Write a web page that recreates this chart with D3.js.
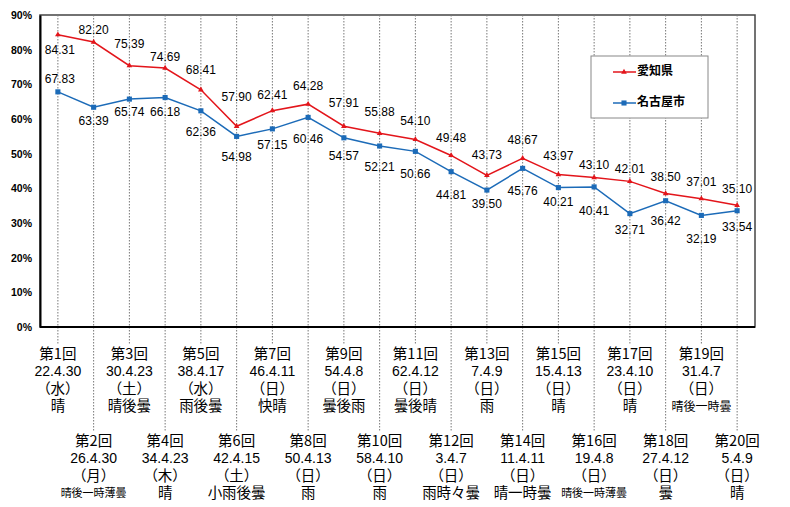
<!DOCTYPE html>
<html lang="ja">
<head>
<meta charset="UTF-8">
<script src="https://d3js.org/d3.v7.min.js"></script>
<style>
  body { margin: 0; background: #fff; }
  text { font-family: "Liberation Sans", Arial, sans-serif; fill: #000; }
  .grid { stroke: #777; stroke-width: 1; stroke-dasharray: 1.5 1.5; }
</style>
</head>
<body>
<svg id="chart" width="790" height="507"></svg>
<script>
const rounds = ["第1回","第2回","第3回","第4回","第5回","第6回","第7回","第8回","第9回","第10回",
  "第11回","第12回","第13回","第14回","第15回","第16回","第17回","第18回","第19回","第20回"];
const dates = ["22.4.30","26.4.30","30.4.23","34.4.23","38.4.17","42.4.15","46.4.11","50.4.13","54.4.8","58.4.10",
  "62.4.12","3.4.7","7.4.9","11.4.11","15.4.13","19.4.8","23.4.10","27.4.12","31.4.7","5.4.9"];
const days = ["（水）","（月）","（土）","（木）","（水）","（土）","（日）","（日）","（日）","（日）",
  "（日）","（日）","（日）","（日）","（日）","（日）","（日）","（日）","（日）","（日）"];
const weather = ["晴","晴後一時薄曇","晴後曇","晴","雨後曇","小雨後曇","快晴","雨","曇後雨","雨",
  "曇後晴","雨時々曇","雨","晴一時曇","晴","晴後一時薄曇","晴","曇","晴後一時曇","晴"];
const aichi = [84.31,82.20,75.39,74.69,68.41,57.90,62.41,64.28,57.91,55.88,
  54.10,49.48,43.73,48.67,43.97,43.10,42.01,38.50,37.01,35.10];
const nagoya = [67.83,63.39,65.74,66.18,62.36,54.98,57.15,60.46,54.57,52.21,
  50.66,44.81,39.50,45.76,40.21,40.41,32.71,36.42,32.19,33.54];
const yTicks = [0,10,20,30,40,50,60,70,80,90];

// how far each value label sits from its point (px), as placed in the original
const aichiDy = [16,-11,-21,-10,-19,-28,-15,-17,-22,-20,-18,-17,-20,-17,-18,-12,-12,-16,-16,-15];
const nagoyaDy = [-12,15,14,15,22,21,17,22,19,22,23,24,15,23,15,25,17,21,24,17];

const mLeft = 40, mRight = 755, mTop = 15, mBottom = 327;
const svg = d3.select("#chart");

const x = d3.scaleBand().domain(d3.range(rounds.length)).range([mLeft, mRight]);
const cx = i => x(i) + x.bandwidth() / 2;
const y = d3.scaleLinear().domain([0, 90]).range([mBottom, mTop]);

// frame
svg.append("rect")
  .attr("x", mLeft).attr("y", mTop)
  .attr("width", mRight - mLeft).attr("height", mBottom - mTop)
  .attr("fill", "none").attr("stroke", "#444").attr("stroke-width", 1.5);

// dashed guides, running down to the category labels
svg.selectAll(".grid").data(d3.range(rounds.length)).join("line")
  .attr("class", "grid")
  .attr("x1", cx).attr("x2", cx)
  .attr("y1", mTop).attr("y2", i => i % 2 === 0 ? 345 : 432);

// y axis
const yAxis = svg.append("g")
  .attr("transform", `translate(${mLeft},0)`)
  .call(d3.axisLeft(y).tickValues(yTicks).tickSize(0).tickPadding(8).tickFormat(d => d + "%"));
yAxis.select(".domain").attr("stroke", "#000").attr("stroke-width", 2);
yAxis.selectAll("text").style("font-size", "10.5px").style("font-weight", "bold").attr("fill", "#222");

// x baseline
svg.append("line").attr("x1", mLeft).attr("x2", mRight).attr("y1", mBottom).attr("y2", mBottom)
  .attr("stroke", "#000").attr("stroke-width", 2);

// category labels, alternating two rows
const cat = svg.append("g");
rounds.forEach((r, i) => {
  const y0 = i % 2 === 0 ? 355 : 442;
  const g = cat.append("g").attr("transform", `translate(${cx(i)},${y0})`);
  const lines = [r, dates[i], days[i], weather[i]];
  lines.forEach((t, k) => {
    const small = k === 3 && t.length >= 5;
    g.append("text")
      .attr("y", k * 17.5)
      .attr("text-anchor", "middle")
      .attr("dominant-baseline", "middle")
      .style("font-size", small ? (t.length >= 6 ? "11px" : "12px") : (k === 1 ? "14px" : "14.5px"))
      .style("font-family", k === 1 ? "'Liberation Sans', Arial, sans-serif" : "'Noto Sans CJK JP', sans-serif")
      .text(t);
  });
});

// lines
const series = [
  { name: "愛知県", values: aichi, dy: aichiDy, color: "#e3151b", shape: d3.symbolTriangle, size: 14 },
  { name: "名古屋市", values: nagoya, dy: nagoyaDy, color: "#1c6bb8", shape: d3.symbolSquare, size: 26 }
];
const line = d3.line().x((d, i) => cx(i)).y(d => y(d));

series.forEach(s => {
  svg.append("path").datum(s.values)
    .attr("d", line).attr("fill", "none")
    .attr("stroke", s.color).attr("stroke-width", 1.5);
  svg.selectAll(null).data(s.values).join("path")
    .attr("transform", (d, i) => `translate(${cx(i)},${y(d)})`)
    .attr("d", d3.symbol().type(s.shape).size(s.size))
    .attr("fill", s.color);
});

// value labels
series.forEach(s => {
  svg.selectAll(null).data(s.values).join("text")
    .attr("x", (d, i) => cx(i) + (i === 0 ? 2 : 0))
    .attr("y", (d, i) => y(d) + s.dy[i])
    .attr("text-anchor", "middle").attr("dominant-baseline", "middle")
    .style("font-size", "12px")
    .text(d => d.toFixed(2));
});

// legend
const lg = svg.append("g").attr("transform", "translate(591,56)");
lg.append("rect").attr("width", 117).attr("height", 62)
  .attr("fill", "#fff").attr("stroke", "#888");
series.forEach((s, k) => {
  const ly = 16 + k * 31;
  lg.append("line").attr("x1", 22).attr("x2", 45).attr("y1", ly).attr("y2", ly)
    .attr("stroke", s.color).attr("stroke-width", 1.5);
  lg.append("path").attr("transform", `translate(33,${ly})`)
    .attr("d", d3.symbol().type(s.shape).size(s.size)).attr("fill", s.color);
  lg.append("text").attr("x", 46).attr("y", ly)
    .attr("dominant-baseline", "middle")
    .style("font-family", "'Noto Sans CJK JP', sans-serif")
    .style("font-size", "12px").style("font-weight", "bold")
    .text(s.name);
});
</script>
</body>
</html>
